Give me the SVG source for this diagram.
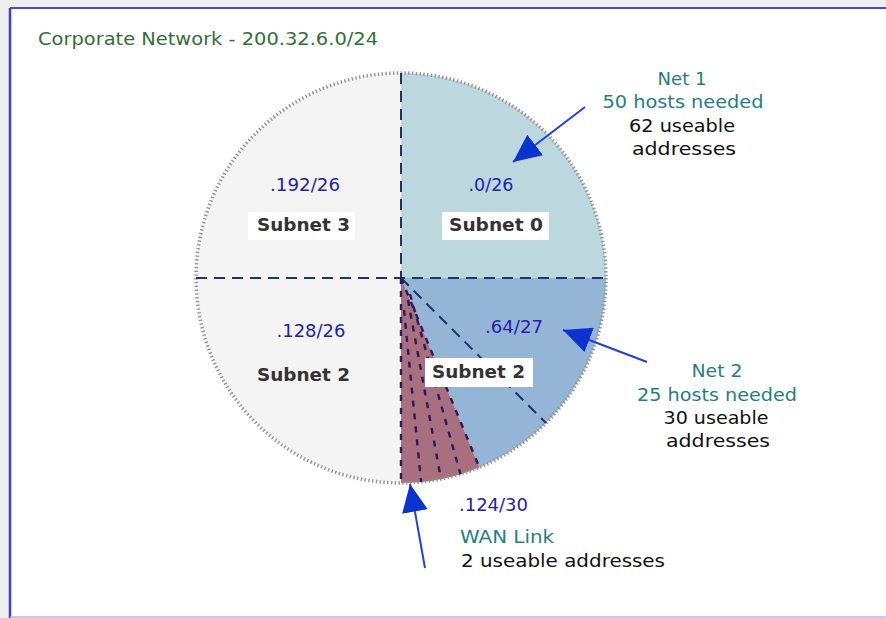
<svg xmlns="http://www.w3.org/2000/svg" width="886" height="618" viewBox="0 0 886 618">
  <defs>
    <style>
      .t { font-family: "DejaVu Sans", Verdana, sans-serif; font-size: 17px; }
      .blue { fill: #2222aa; }
      .teal { fill: #1f7f7f; }
      .blk { fill: #111; }
      .bold { font-weight: bold; fill: #333; font-size: 17px; }
      .lbl { fill: #fff; }
      .arrow { stroke: #1f44d8; stroke-width: 2; fill: none; marker-end: url(#head); }
      .div { stroke: #1a3566; stroke-width: 2; stroke-dasharray: 11 7; fill: none; }
      .hatch { stroke: #2c1a5c; stroke-width: 2.4; stroke-dasharray: 6 7; fill: none; }
    </style>
    <marker id="head" markerUnits="userSpaceOnUse" markerWidth="30" markerHeight="26" refX="28" refY="13" orient="auto">
      <path d="M0,0 L28,13 L0,26 Z" fill="#0a33d0"/>
    </marker>
  </defs>

  <!-- window frame -->
  <rect x="0" y="0" width="886" height="618" fill="#eeeeee"/>
  <rect x="10" y="8" width="876" height="610" fill="#ffffff"/>
  <line x1="10" y1="8" x2="886" y2="8" stroke="#4646e6" stroke-width="2"/>
  <line x1="10" y1="8" x2="10" y2="618" stroke="#3c3ce0" stroke-width="2.5"/>
  <line x1="10" y1="617" x2="886" y2="617" stroke="#b4b4f0" stroke-width="1.5"/>

  <text class="t" x="38" y="45" fill="#2f6f36" textLength="340" lengthAdjust="spacingAndGlyphs">Corporate Network - 200.32.6.0/24</text>

  <!-- pie of subnets, centre (401,278), r 205 -->
  <g id="pie">
    <path d="M401,278 L401,73 A205,205 0 0 0 196,278 A205,205 0 0 0 401,483 Z" fill="#f4f4f4"/>
    <path d="M401,278 L401,73 A205,205 0 0 1 606,278 Z" fill="#bdd7de"/>
    <path d="M401,278 L606,278 A205,205 0 0 1 479.4,467.4 Z" fill="#95b5d6"/>
    <path d="M401,278 L479.4,467.4 A205,205 0 0 1 401,483 Z" fill="#a8707f"/>
    <circle cx="401" cy="278" r="205" fill="none" stroke="#939393" stroke-width="3.5" stroke-dasharray="1.4 2.4"/>
  </g>

  <g id="connectors">
    <line class="div" x1="196" y1="278" x2="606" y2="278"/>
    <line class="div" x1="401" y1="73" x2="401" y2="278" stroke="#1c1c70"/>
    <line class="div" x1="401" y1="278" x2="546" y2="423"/>
    <line class="hatch" x1="401" y1="278" x2="401" y2="483"/>
    <line class="hatch" x1="404" y1="310" x2="421.1" y2="482"/>
    <line class="hatch" x1="408" y1="300" x2="441" y2="479.1"/>
    <line class="hatch" x1="410" y1="294" x2="460.5" y2="474.2"/>
    <line class="hatch" x1="401" y1="278" x2="479.4" y2="467.4"/>

    <line class="arrow" x1="585" y1="107" x2="513" y2="162"/>
    <line class="arrow" x1="647" y1="362" x2="563" y2="330"/>
    <line class="arrow" x1="425" y1="568" x2="410" y2="484"/>
  </g>

  <g id="subnet3">
    <text class="t blue" x="305" y="191" text-anchor="middle" textLength="70" lengthAdjust="spacingAndGlyphs">.192/26</text>
    <rect class="lbl" x="248" y="212" width="107" height="28"/>
    <text class="t bold" x="303.5" y="231" text-anchor="middle" textLength="93" lengthAdjust="spacingAndGlyphs">Subnet 3</text>
  </g>

  <g id="subnet0">
    <text class="t blue" x="491" y="191" text-anchor="middle" textLength="45" lengthAdjust="spacingAndGlyphs">.0/26</text>
    <rect class="lbl" x="442" y="212" width="107" height="28"/>
    <text class="t bold" x="496" y="231" text-anchor="middle" textLength="94" lengthAdjust="spacingAndGlyphs">Subnet 0</text>
  </g>

  <g id="subnet2-left">
    <text class="t blue" x="311" y="337" text-anchor="middle" textLength="69" lengthAdjust="spacingAndGlyphs">.128/26</text>
    <text class="t bold" x="303.5" y="381" text-anchor="middle" textLength="93" lengthAdjust="spacingAndGlyphs">Subnet 2</text>
  </g>

  <g id="subnet2-right">
    <text class="t blue" x="514" y="333" text-anchor="middle" textLength="58" lengthAdjust="spacingAndGlyphs">.64/27</text>
    <rect class="lbl" x="425" y="358" width="108" height="29"/>
    <text class="t bold" x="478.5" y="378" text-anchor="middle" textLength="93" lengthAdjust="spacingAndGlyphs">Subnet 2</text>
  </g>

  <g id="wan">
    <text class="t blue" x="459" y="511" textLength="69" lengthAdjust="spacingAndGlyphs">.124/30</text>
    <text class="t teal" x="460" y="543" textLength="94" lengthAdjust="spacingAndGlyphs">WAN Link</text>
    <text class="t blk" x="461" y="567" textLength="204" lengthAdjust="spacingAndGlyphs">2 useable addresses</text>
  </g>

  <g id="net1" text-anchor="middle">
    <text class="t teal" x="682" y="85" textLength="49" lengthAdjust="spacingAndGlyphs">Net 1</text>
    <text class="t teal" x="683" y="108" textLength="161" lengthAdjust="spacingAndGlyphs">50 hosts needed</text>
    <text class="t blk" x="682" y="132" textLength="106" lengthAdjust="spacingAndGlyphs">62 useable</text>
    <text class="t blk" x="684" y="155" textLength="104" lengthAdjust="spacingAndGlyphs">addresses</text>
  </g>

  <g id="net2" text-anchor="middle">
    <text class="t teal" x="717" y="377" textLength="51" lengthAdjust="spacingAndGlyphs">Net 2</text>
    <text class="t teal" x="717" y="401" textLength="160" lengthAdjust="spacingAndGlyphs">25 hosts needed</text>
    <text class="t blk" x="716" y="424" textLength="105" lengthAdjust="spacingAndGlyphs">30 useable</text>
    <text class="t blk" x="718" y="447" textLength="104" lengthAdjust="spacingAndGlyphs">addresses</text>
  </g>
</svg>
